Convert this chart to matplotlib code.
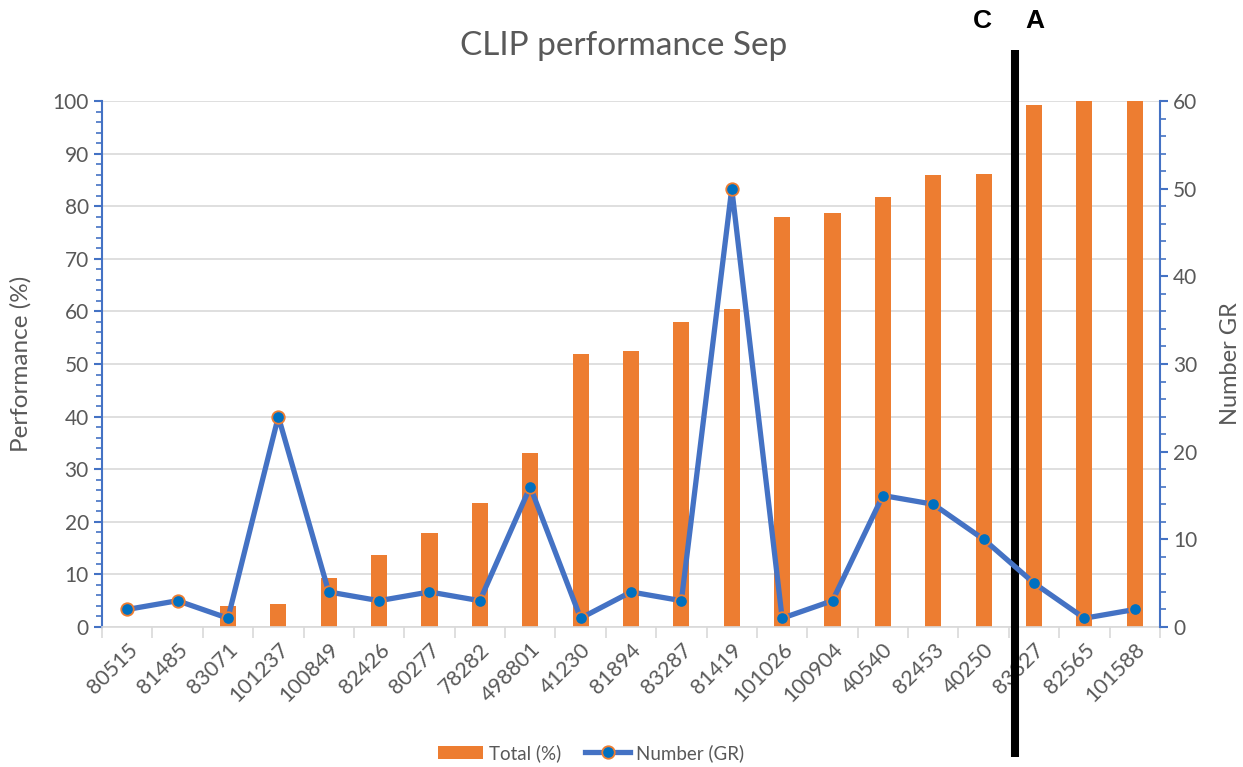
import matplotlib
matplotlib.use("Agg")
import matplotlib.pyplot as plt
import numpy as np
from matplotlib.ticker import MultipleLocator

plt.rcParams['font.family'] = ['Lato', 'DejaVu Sans']

categories = ["80515", "81485", "83071", "101237", "100849", "82426", "80277",
              "78282", "498801", "41230", "81894", "83287", "81419", "101026",
              "100904", "40540", "82453", "40250", "83327", "82565", "101588"]
total_pct = [0, 0, 4.0, 4.4, 9.3, 13.7, 17.9, 23.6, 33.1, 51.9, 52.5, 58.0,
             60.4, 78.0, 78.7, 81.7, 85.9, 86.1, 99.2, 100, 100]
number_gr = [2, 3, 1, 24, 4, 3, 4, 3, 16, 1, 4, 3, 50, 1, 3, 15, 14, 10, 5, 1, 2]

orange = "#ED7D31"
blue = "#4472C4"
dot = "#0070C0"
grey = "#595959"

fig = plt.figure(figsize=(12.43, 7.67), dpi=100)
ax = fig.add_axes([102 / 1243, 1 - 627 / 767, 1058 / 1243, 526 / 767])
ax2 = ax.twinx()

x = np.arange(len(categories))
bars = ax.bar(x, total_pct, width=0.32, color=orange, zorder=2, label="Total (%)")
line, = ax2.plot(x, number_gr, color=blue, lw=3.8, marker="o", ms=9,
                 markerfacecolor=dot, markeredgecolor=orange, markeredgewidth=1.3,
                 zorder=3, label="Number (GR)")

ax.set_xlim(-0.5, len(categories) - 0.5)
ax.set_ylim(0, 100)
ax2.set_ylim(0, 60)
ax.yaxis.set_major_locator(MultipleLocator(10))
ax.yaxis.set_minor_locator(MultipleLocator(2))
ax2.yaxis.set_major_locator(MultipleLocator(10))
ax2.yaxis.set_minor_locator(MultipleLocator(2))

ax.grid(axis="y", color="#D9D9D9", lw=1.2, zorder=0)
ax.set_axisbelow(True)

ax.spines["top"].set_visible(False)
ax2.spines["top"].set_visible(False)
ax.spines["right"].set_visible(False)
ax2.spines["left"].set_visible(False)
ax2.spines["bottom"].set_visible(False)
ax.spines["left"].set_color(blue)
ax.spines["left"].set_linewidth(1.5)
ax2.spines["right"].set_color(blue)
ax2.spines["right"].set_linewidth(1.5)
ax.spines["bottom"].set_color("#D9D9D9")
ax.spines["bottom"].set_linewidth(1.2)

ax.tick_params(axis="y", which="major", colors=blue, length=6, width=1.5, labelcolor=grey, labelsize=15)
ax.tick_params(axis="y", which="minor", colors=blue, length=4, width=1.2)
ax2.tick_params(axis="y", which="major", colors=blue, length=6, width=1.5, labelcolor=grey, labelsize=15)
ax2.tick_params(axis="y", which="minor", colors=blue, length=4, width=1.2)

ax.set_xticks(x)
ax.set_xticklabels(categories, rotation=45, ha="right", rotation_mode="anchor", color=grey, fontsize=15.5)
ax.tick_params(axis="x", which="major", length=0, pad=9)
ax.set_xticks(np.arange(-0.5, len(categories)), minor=True)
ax.tick_params(axis="x", which="minor", length=8, width=1.2, color="#D9D9D9")

ax.set_ylabel("Performance (%)", color=grey, fontsize=17.5)
ax.yaxis.set_label_coords(-70 / 1058, 0.5)
ax2.set_ylabel("Number GR", color=grey, fontsize=17)
ax2.yaxis.set_label_coords(1 + 60 / 1058, 0.5)

fig.text(624 / 1243, 1 - 46 / 767, "CLIP performance Sep", ha="center", va="center",
         color=grey, fontsize=24)

# black divider line between 40250 and 83327
ax.plot([17.63, 17.63], [109.7, -24.7], color="black", lw=5.8, clip_on=False, zorder=5,
        solid_capstyle="butt")
fig.text(982 / 1243, 1 - 21 / 767, "C", ha="center", va="center", fontsize=19,
         fontweight="bold", family="Liberation Sans")
fig.text(1035 / 1243, 1 - 21 / 767, "A", ha="center", va="center", fontsize=19,
         fontweight="bold", family="Liberation Sans")

fig.legend(handles=[bars, line], loc="center", bbox_to_anchor=(591 / 1243, 1 - 753 / 767),
           ncol=2, frameon=False, fontsize=13.5, labelcolor=grey, handlelength=2.4,
           handletextpad=0.3, columnspacing=1.3)

fig.savefig("out.png", dpi=100)
